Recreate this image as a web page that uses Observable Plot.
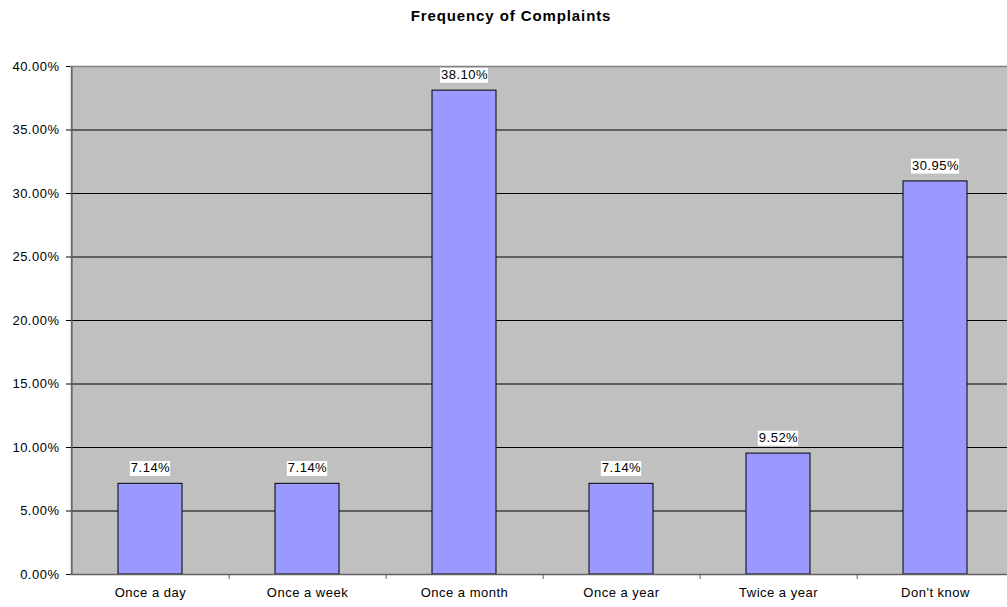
<!DOCTYPE html>
<html>
<head>
<meta charset="utf-8">
<script src="https://cdn.jsdelivr.net/npm/d3@7"></script>
<script src="https://cdn.jsdelivr.net/npm/@observablehq/plot@0.6"></script>
<style>
  html, body { margin: 0; padding: 0; background: #fff; overflow: hidden; }
  #title {
    height: 30px;
    padding-left: 15px;
    box-sizing: border-box;
    width: 1007px;
    text-align: center;
    font: bold 15px "Liberation Sans", Arial, sans-serif;
    letter-spacing: 0.9px;
    line-height: 32px;
    color: #000;
  }
  #chart svg { display: block; overflow: hidden; }
  #chart svg text { letter-spacing: 0.5px; }
</style>
</head>
<body>
<div id="title">Frequency of Complaints</div>
<div id="chart"></div>
<script>
// Survey answers: how often complaints are made
const categories = ["Once a day", "Once a week", "Once a month", "Once a year", "Twice a year", "Don't know"];
const shares = [0.0714, 0.0714, 0.3810, 0.0714, 0.0952, 0.3095];
const yTicks = [0, 0.05, 0.10, 0.15, 0.20, 0.25, 0.30, 0.35, 0.40];

const data = categories.map((c, i) => ({category: c, share: shares[i]}));
const pct = d => (d * 100).toFixed(2) + "%";

// The plotting area runs slightly past the right edge of the page
const width = 1007, height = 577;
const marginLeft = 70, marginRight = -7, marginTop = 36, marginBottom = 33;
const step = (width - marginLeft - marginRight) / categories.length;

const plot = Plot.plot({
  width, height, marginLeft, marginRight, marginTop, marginBottom,
  style: {fontFamily: "'Liberation Sans', Arial, sans-serif", fontSize: "13px", color: "#000", background: "#fff", overflow: "hidden"},
  x: {domain: categories, paddingInner: 0.595, paddingOuter: 0.2975, tickSize: 0, tickPadding: 13, label: null},
  y: {domain: [0, 0.4], ticks: yTicks, tickFormat: pct, tickSize: 4, tickPadding: 7, label: null},
  marks: [
    Plot.frame({fill: "#C0C0C0", stroke: null}),
    Plot.ruleY(yTicks.slice(1, -1), {stroke: "#000", strokeWidth: 1}),
    Plot.ruleY([0.4], {stroke: "#808080", strokeWidth: 1.5}),
    Plot.barY(data, {x: "category", y: "share", fill: "#9999FF", stroke: "#000", strokeWidth: 1}),
    Plot.ruleX([categories[0]], {dx: -step / 2, stroke: "#606060", strokeWidth: 1.5}),
    Plot.ruleY([0], {stroke: "#606060", strokeWidth: 1.5}),
    Plot.tickX(categories, {x: d => d, y1: 0, dx: step / 2, stroke: "#606060"}),
    Plot.text(data, {x: "category", y: "share", text: d => pct(d.share), dy: -15.5, fontSize: 13, fill: "#000", className: "value-label"})
  ]
});

document.getElementById("chart").appendChild(plot);

// Boundary ticks hang below the baseline
const yScale = plot.scale("y");
d3.select(plot).selectAll("g[aria-label='tick'] line").each(function() {
  const y0 = yScale.apply(0);
  d3.select(this).attr("y1", y0).attr("y2", y0 + 5);
});

// White boxes behind the value labels
d3.select(plot).selectAll(".value-label text").each(function() {
  const b = this.getBBox();
  d3.select(this.parentNode).insert("rect", () => this)
    .attr("x", b.x - 1).attr("y", b.y + 0.5)
    .attr("width", b.width + 1).attr("height", b.height)
    .attr("fill", "#fff")
    .attr("transform", this.getAttribute("transform"));
});
</script>
</body>
</html>
